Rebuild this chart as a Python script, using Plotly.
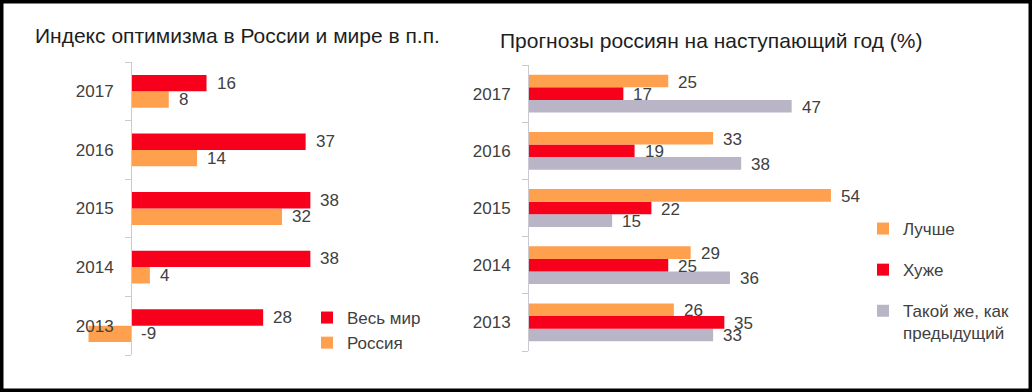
import plotly.graph_objects as go

# ---------------- data ----------------
years = ["2013", "2014", "2015", "2016", "2017"]

# Left chart: optimism index (p.p.)
world = [28, 38, 38, 37, 16]        # Весь мир
russia = [-9, 4, 32, 14, 8]         # Россия

# Right chart: forecasts of Russians (%)
better = [26, 29, 54, 33, 25]       # Лучше
worse = [35, 25, 22, 19, 17]        # Хуже
same = [33, 36, 15, 38, 47]         # Такой же, как предыдущий

left_title = "Индекс оптимизма в России и мире в п.п."
right_title = "Прогнозы россиян на наступающий год (%)"

# ---------------- style ----------------
RED = "#F7001C"
ORANGE = "#FFA04F"
GRAY = "#B9B4C6"
AXIS = "#CBCAD3"
TXT = "#404040"
FONT = "Liberation Sans, Arial, sans-serif"
W, H = 1032, 392

fig = go.Figure()

# Left chart traces (first trace sits lowest in a horizontal group)
fig.add_trace(go.Bar(y=years, x=russia, orientation="h", name="Россия",
                     marker=dict(color=ORANGE, line=dict(width=0)),
                     xaxis="x", yaxis="y", legend="legend", legendgroup="r",
                     legendrank=2, hoverinfo="skip"))
fig.add_trace(go.Bar(y=years, x=world, orientation="h", name="Весь мир",
                     marker=dict(color=RED, line=dict(width=0)),
                     xaxis="x", yaxis="y", legend="legend", legendgroup="w",
                     legendrank=1, hoverinfo="skip"))

# Right chart traces
fig.add_trace(go.Bar(y=years, x=same, orientation="h", name="Такой же, как<br>предыдущий",
                     marker=dict(color=GRAY, line=dict(width=0)),
                     xaxis="x2", yaxis="y2", legend="legend2", legendgroup="s",
                     legendrank=3, hoverinfo="skip"))
fig.add_trace(go.Bar(y=years, x=worse, orientation="h", name="Хуже",
                     marker=dict(color=RED, line=dict(width=0)),
                     xaxis="x2", yaxis="y2", legend="legend2", legendgroup="wo",
                     legendrank=2, hoverinfo="skip"))
fig.add_trace(go.Bar(y=years, x=better, orientation="h", name="Лучше",
                     marker=dict(color=ORANGE, line=dict(width=0)),
                     xaxis="x2", yaxis="y2", legend="legend2", legendgroup="b",
                     legendrank=1, hoverinfo="skip"))

# ---------------- axes geometry ----------------
xr1 = [-10, 45]
dom_x1 = [83.8 / W, 343.4 / W]
dom_y1 = [(H - 355) / H, (H - 62) / H]
xr2 = [0, 62]
dom_x2 = [528 / W, 875.8 / W]
dom_y2 = [(H - 351) / H, (H - 65) / H]


def zero_pos(rng, dom):
    return dom[0] + (0 - rng[0]) / (rng[1] - rng[0]) * (dom[1] - dom[0])


gap1 = 0.44
gap2 = 0.34

yaxis_common = dict(type="category", categoryorder="array", categoryarray=years,
                    range=[-0.5, 4.5], showline=True, linecolor=AXIS, linewidth=1,
                    ticks="outside", tickson="boundaries", ticklen=6, tickcolor=AXIS,
                    tickwidth=1, showgrid=False, zeroline=False,
                    tickfont=dict(family=FONT, size=17, color=TXT),
                    ticklabelstandoff=14, fixedrange=True)
xaxis_common = dict(visible=False, showgrid=False, zeroline=False, fixedrange=True)

fig.update_layout(
    width=W, height=H,
    margin=dict(l=0, r=0, t=0, b=0),
    paper_bgcolor="white", plot_bgcolor="rgba(0,0,0,0)",
    barmode="group",
    font=dict(family=FONT, color=TXT),
    xaxis=dict(**xaxis_common, range=xr1, domain=dom_x1, anchor="y"),
    yaxis=dict(**yaxis_common, domain=dom_y1, anchor="free",
               position=zero_pos(xr1, dom_x1)),
    xaxis2=dict(**xaxis_common, range=xr2, domain=dom_x2, anchor="y2"),
    yaxis2=dict(**yaxis_common, domain=dom_y2, anchor="free",
                position=zero_pos(xr2, dom_x2)),
    legend=dict(x=307 / W, y=1 - 300 / H, xanchor="left", yanchor="top",
                traceorder="grouped", tracegroupgap=0,
                font=dict(family=FONT, size=17, color=TXT),
                bgcolor="rgba(0,0,0,0)", itemclick=False, itemdoubleclick=False),
    legend2=dict(x=863 / W, y=1 - 211 / H, xanchor="left", yanchor="top",
                 traceorder="grouped", tracegroupgap=16, valign="top",
                 font=dict(family=FONT, size=17, color=TXT),
                 bgcolor="rgba(0,0,0,0)", itemclick=False, itemdoubleclick=False),
    showlegend=True,
)

# bar thickness / position inside each category slot
w1 = (1 - gap1) / 2
for i, tr in enumerate(fig.data[:2]):
    tr.width = w1
    tr.offset = -(1 - gap1) / 2 + i * w1
w2 = (1 - gap2) / 3
for i, tr in enumerate(fig.data[2:]):
    tr.width = w2
    tr.offset = -(1 - gap2) / 2 + i * w2

# ---------------- value labels ----------------
annotations = []
for k, vals in enumerate([russia, world]):
    off = -(1 - gap1) / 2 + (k + 0.5) * w1
    for i, v in enumerate(vals):
        annotations.append(dict(x=max(v, 0), y=i + off, xref="x", yref="y",
                                text=str(v), showarrow=False, xanchor="left",
                                yanchor="middle", xshift=8,
                                font=dict(family=FONT, size=17, color=TXT)))
for k, vals in enumerate([same, worse, better]):
    off = -(1 - gap2) / 2 + (k + 0.5) * w2
    for i, v in enumerate(vals):
        annotations.append(dict(x=max(v, 0), y=i + off, xref="x2", yref="y2",
                                text=str(v), showarrow=False, xanchor="left",
                                yanchor="middle", xshift=8, yshift=-1,
                                font=dict(family=FONT, size=17, color=TXT)))

# titles
annotations.append(dict(x=33 / W, y=1 - 35 / H, xref="paper", yref="paper",
                        text=left_title, showarrow=False, xanchor="left",
                        yanchor="middle",
                        font=dict(family=FONT, size=21, color="#1E1E1E")))
annotations.append(dict(x=498 / W, y=1 - 40 / H, xref="paper", yref="paper",
                        text=right_title, showarrow=False, xanchor="left",
                        yanchor="middle",
                        font=dict(family=FONT, size=21, color="#1E1E1E")))
fig.update_layout(annotations=annotations)

# black frame around the picture
fig.add_shape(type="rect", xref="paper", yref="paper", x0=0, x1=1, y0=0, y1=1,
              line=dict(color="black", width=7), fillcolor="rgba(0,0,0,0)")

fig.write_html("out.html",
               config={"displayModeBar": False},
               post_script="document.body.style.margin='0';"
                           "document.body.style.overflow='hidden';")
